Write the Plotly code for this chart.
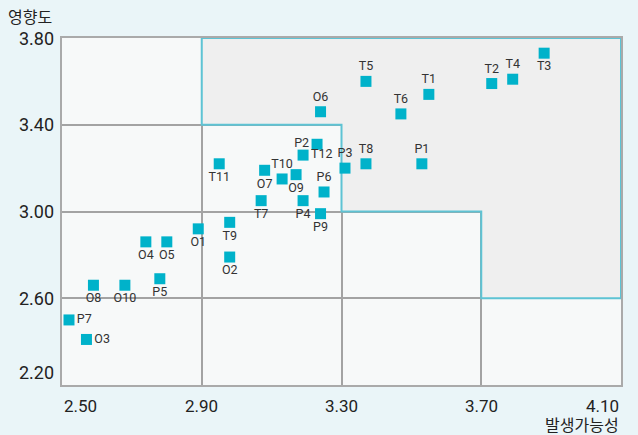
import plotly.graph_objects as go

# risk items: likelihood (x) vs impact (y)
names = ["T1", "T2", "T3", "T4", "T5", "T6", "T7", "T8", "T9", "T10", "T11", "T12",
         "P1", "P2", "P3", "P4", "P5", "P6", "P7", "P9",
         "O1", "O2", "O3", "O4", "O5", "O6", "O7", "O8", "O9", "O10"]
likelihood = [3.55, 3.73, 3.88, 3.79, 3.37, 3.47, 3.07, 3.37, 2.98, 3.13, 2.95, 3.19,
              3.53, 3.23, 3.31, 3.19, 2.78, 3.25, 2.52, 3.24,
              2.89, 2.98, 2.57, 2.74, 2.80, 3.24, 3.08, 2.59, 3.17, 2.68]
impact = [3.54, 3.59, 3.73, 3.61, 3.60, 3.45, 3.05, 3.22, 2.95, 3.15, 3.22, 3.26,
          3.22, 3.31, 3.20, 3.05, 2.69, 3.09, 2.50, 2.99,
          2.92, 2.79, 2.41, 2.86, 2.86, 3.46, 3.19, 2.66, 3.17, 2.66]

x_ticks = [2.5, 2.9, 3.3, 3.7, 4.1]
y_ticks = [3.8, 3.4, 3.0, 2.6, 2.2]

# label placement (default above)
below = {"T3", "T7", "T9", "T11", "P4", "P5", "P9", "O1", "O2", "O4", "O5", "O7", "O8", "O9", "O10"}
special = {"P2": "middle left", "T12": "middle right", "P7": "middle right", "O3": "middle right"}
positions = [special.get(n, "bottom center" if n in below else "top center") for n in names]

font = "Roboto, Noto Sans CJK KR, sans-serif"

fig = go.Figure(go.Scatter(
    x=likelihood, y=impact, mode="markers+text",
    text=names, textposition=positions,
    marker=dict(symbol="square", size=11, color="#00B2CA"),
    textfont=dict(family=font, size=12.5, color="#333333"),
    cliponaxis=False, hoverinfo="skip",
))

# high-risk zone (stepped)
x0, x1, x2, x3, x4 = x_ticks
y4, y3, y2, y1, y0 = y_ticks
path = (f"M {x1},{y4} L {x4},{y4} L {x4},{y1} L {x3},{y1} L {x3},{y2} "
        f"L {x2},{y2} L {x2},{y3} L {x1},{y3} Z")
fig.add_shape(type="path", path=path, xref="x", yref="y", layer="between",
              fillcolor="#EFEFEF", line=dict(color="#5EC3D4", width=2))

# tick labels as annotations so the end labels stay inside
for i, v in enumerate(x_ticks):
    anchor = "left" if i == 0 else ("right" if i == len(x_ticks) - 1 else "center")
    fig.add_annotation(x=v, y=0, xref="x", yref="paper", text=f"{v:.2f}",
                       showarrow=False, xanchor=anchor, yanchor="top", yshift=-9,
                       font=dict(family=font, size=17, color="#222222"))
for i, v in enumerate(y_ticks):
    anchor = "bottom" if i == len(y_ticks) - 1 else "middle"
    fig.add_annotation(x=0, y=v, xref="paper", yref="y", text=f"{v:.2f}",
                       showarrow=False, xanchor="right", yanchor=anchor, xshift=-6,
                       font=dict(family=font, size=18, color="#222222"))

fig.add_annotation(x=0, y=1, xref="paper", yref="paper", text="영향도",
                   showarrow=False, xanchor="left", yanchor="bottom",
                   xshift=-56, yshift=9, font=dict(family=font, size=16, color="#222222"))
fig.add_annotation(x=1, y=0, xref="paper", yref="paper", text="발생가능성",
                   showarrow=False, xanchor="right", yanchor="top",
                   yshift=-29, font=dict(family=font, size=16, color="#222222"))

axis_style = dict(showticklabels=False, ticks="", showgrid=True, gridcolor="#A3A3A3",
                  gridwidth=1.5, zeroline=False, showline=True, mirror=True,
                  linecolor="#AAAAAA", linewidth=1.5)
fig.update_xaxes(range=[2.5, 4.1], tickvals=x_ticks, **axis_style)
fig.update_yaxes(range=[2.2, 3.8], tickvals=y_ticks, **axis_style)

fig.update_layout(
    width=638, height=435,
    margin=dict(l=62, r=17, t=38, b=50),
    paper_bgcolor="#EAF5F8", plot_bgcolor="#F7F9F9",
    showlegend=False,
)

fig.write_html("out.html", config={"displayModeBar": False},
               post_script="document.body.style.margin='0px';")
